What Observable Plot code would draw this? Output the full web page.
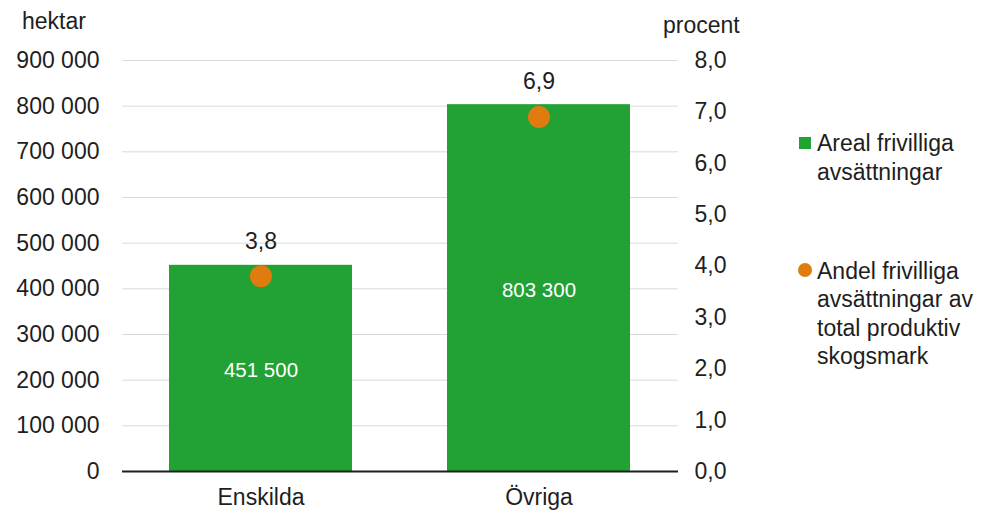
<!DOCTYPE html>
<html>
<head>
<meta charset="utf-8">
<script src="https://cdn.jsdelivr.net/npm/d3@7"></script>
<script src="https://cdn.jsdelivr.net/npm/@observablehq/plot@0.6"></script>
<style>
  body { margin: 0; background: #fff; }
  #wrap { position: relative; width: 983px; height: 516px; font-family: "Liberation Sans", Arial, sans-serif; color: #1e1e1e; }
  .lbl { position: absolute; font-size: 23px; line-height: 23px; white-space: nowrap; }
  .leg { position: absolute; font-size: 23px; line-height: 28.5px; white-space: nowrap; }
</style>
</head>
<body>
<div id="wrap"></div>
<script>
const categories = ["Enskilda", "Övriga"];
const arealValues = [451500, 803300];
const andelValues = [3.8, 6.9];
const leftTicks = [0, 100000, 200000, 300000, 400000, 500000, 600000, 700000, 800000, 900000];
const rightTicks = [0, 1, 2, 3, 4, 5, 6, 7, 8];
const leftTitle = "hektar";
const rightTitle = "procent";
const legendLabels = ["Areal frivilliga<br>avsättningar", "Andel frivilliga<br>avsättningar av<br>total produktiv<br>skogsmark"];

const green = "#22a235";
const orange = "#e07b10";
const ratio = 900000 / 8;

const fmt = d => d3.format(",")(d).replace(/,/g, " ");
const fmtP = d => d.toFixed(1).replace(".", ",");

const data = categories.map((c, i) => ({cat: c, areal: arealValues[i], andel: andelValues[i]}));

const chart = Plot.plot({
  width: 983,
  height: 516,
  marginLeft: 122,
  marginRight: 305,
  marginTop: 60,
  marginBottom: 45,
  style: {fontFamily: "'Liberation Sans', Arial, sans-serif", fontSize: "23px", color: "#1e1e1e", background: "white"},
  x: {domain: categories, paddingInner: 0.34, paddingOuter: 0.17, label: null},
  y: {domain: [0, 900000], label: null},
  marks: [
    Plot.gridY(leftTicks, {stroke: "#d9d9d9", strokeOpacity: 1, strokeWidth: 1}),
    Plot.barY(data, {x: "cat", y: "areal", fill: green}),
    Plot.text(data, {x: "cat", y: d => d.areal / 2, dy: 2, text: d => fmt(d.areal), fill: "white", fontSize: 20.5}),
    Plot.dot(data, {x: "cat", y: d => d.andel * ratio, r: 11, fill: orange, stroke: null}),
    Plot.text(data, {x: "cat", y: d => d.andel * ratio, dy: -35, text: d => fmtP(d.andel), fill: "#1e1e1e"}),
    Plot.ruleY([0], {stroke: "#1e1e1e", strokeWidth: 2}),
    Plot.axisY({anchor: "left", ticks: leftTicks, tickFormat: fmt, tickSize: 0, tickPadding: 23, label: null}),
    Plot.axisY({anchor: "right", ticks: rightTicks.map(v => v * ratio), tickFormat: d => fmtP(d / ratio), tickSize: 0, tickPadding: 16, label: null}),
    Plot.axisX({tickSize: 0, tickPadding: 17, label: null})
  ]
});

const wrap = document.getElementById("wrap");
wrap.appendChild(chart);
chart.style.position = "absolute";
chart.style.left = "0px";
chart.style.top = "0px";

function addDiv(cls, html, left, top) {
  const el = document.createElement("div");
  el.className = cls;
  el.innerHTML = html;
  el.style.left = left + "px";
  el.style.top = top + "px";
  wrap.appendChild(el);
  return el;
}
addDiv("lbl", leftTitle, 22, 10);
addDiv("lbl", rightTitle, 663, 14);

// legend
const sq = document.createElement("div");
Object.assign(sq.style, {position: "absolute", left: "799px", top: "137px", width: "12px", height: "12px", background: green});
wrap.appendChild(sq);
addDiv("leg", legendLabels[0], 817, 129);
const ci = document.createElement("div");
Object.assign(ci.style, {position: "absolute", left: "798px", top: "263px", width: "14px", height: "14px", borderRadius: "50%", background: orange});
wrap.appendChild(ci);
addDiv("leg", legendLabels[1], 817, 256.5);
</script>
</body>
</html>
